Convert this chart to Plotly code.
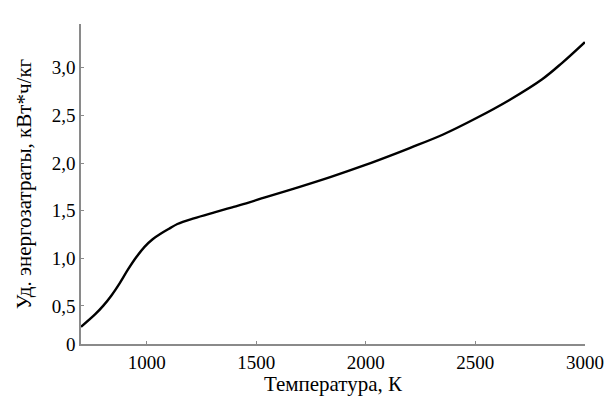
import plotly.graph_objects as go

temperature = [700, 764, 801, 839, 877, 914, 952, 990, 1027, 1065, 1102, 1140, 1215, 1313, 1390,
               1465, 1540, 1691, 1841, 1992, 2142, 2203, 2353, 2503, 2654, 2805, 2895, 3000]
energy = [0.28, 0.41, 0.50, 0.61, 0.74, 0.88, 1.01, 1.12, 1.20, 1.26, 1.31, 1.36, 1.42, 1.485, 1.535,
          1.585, 1.64, 1.745, 1.855, 1.975, 2.105, 2.16, 2.30, 2.47, 2.66, 2.88, 3.05, 3.27]

y_ticks = [0.1, 0.5, 1.0, 1.5, 2.0, 2.5, 3.0]
y_tick_text = ["0", "0,5", "1,0", "1,5", "2,0", "2,5", "3,0"]
x_ticks = [1000, 1500, 2000, 2500, 3000]
x_tick_text = ["1000", "1500", "2000", "2500", "3000"]

fig = go.Figure(go.Scatter(x=temperature, y=energy, mode="lines",
                           line=dict(color="black", width=2.4, shape="spline", smoothing=1.0)))

font = dict(family="Liberation Serif, Times New Roman, serif", color="black")
fig.update_layout(
    width=606, height=396,
    margin=dict(l=81, r=21, t=24, b=52),
    paper_bgcolor="white", plot_bgcolor="white",
    showlegend=False,
    font=dict(size=19, **font),
)
fig.update_xaxes(
    range=[700, 3000.5], tickvals=x_ticks, ticktext=x_tick_text,
    showgrid=False, zeroline=False, showline=True, linecolor="#8a8a8a", linewidth=1.5,
    ticks="inside", ticklen=3, tickcolor="#8a8a8a",
    title=dict(text="Температура, К", font=dict(size=21, **font), standoff=2),
    tickfont=dict(size=19, **font),
    ticklabeloverflow="allow",
    automargin=False,
)
fig.update_yaxes(
    range=[0.1, 3.46], tickvals=y_ticks, ticktext=y_tick_text,
    showgrid=False, zeroline=False, showline=True, linecolor="#8a8a8a", linewidth=1.5,
    ticks="inside", ticklen=3, tickcolor="#8a8a8a",
    title=dict(text="Уд. энергозатраты, кВт*ч/кг", font=dict(size=21, **font), standoff=14),
    tickfont=dict(size=19, **font),
    automargin=False,
)
fig.write_html("out.html")
